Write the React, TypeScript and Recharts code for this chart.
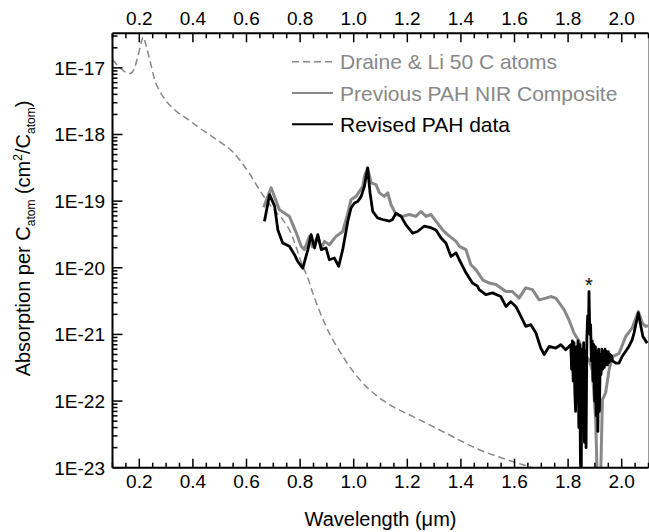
import { LineChart, Line, XAxis, YAxis, ReferenceLine, ReferenceDot, Legend, Label } from "recharts"

// Draine & Li, 50 C atoms (dashed)
const draineWl = [0.10, 0.12, 0.145, 0.165, 0.18, 0.195, 0.207, 0.215, 0.226, 0.245, 0.257, 0.276, 0.30, 0.34, 0.38, 0.425, 0.486, 0.55, 0.611, 0.66, 0.70, 0.735, 0.76, 0.771, 0.81, 0.829, 0.847, 0.897, 0.959, 1.046, 1.096, 1.145, 1.22, 1.344, 1.469, 1.592, 1.667, 1.71]
const draineAbs = [1.33e-17, 1.08e-17, 8.8e-18, 8.2e-18, 9.5e-18, 1.5e-17, 2.4e-17, 2.9e-17, 2.1e-17, 1.05e-17, 6.7e-18, 4.5e-18, 3.2e-18, 2.2e-18, 1.7e-18, 1.25e-18, 8.5e-19, 5.4e-19, 2.6e-19, 1.25e-19, 7.6e-20, 5.3e-20, 3.7e-20, 2.95e-20, 1.05e-20, 7.0e-21, 4.2e-21, 1.32e-21, 4.7e-22, 1.66e-22, 1.12e-22, 8.3e-23, 5.9e-23, 3.3e-23, 1.86e-23, 1.24e-23, 1.0e-23, 8.8e-24]

// Previous PAH NIR composite (gray)
const prevWl = [0.664, 0.692, 0.723, 0.760, 0.785, 0.804, 0.816, 0.835, 0.846, 0.866, 0.879, 0.891, 0.909, 0.934, 0.959, 0.978, 0.990, 1.009, 1.034, 1.040, 1.052, 1.065, 1.083, 1.096, 1.114, 1.127, 1.139, 1.158, 1.183, 1.208, 1.232, 1.251, 1.270, 1.288, 1.307, 1.332, 1.350, 1.382, 1.394, 1.419, 1.437, 1.456, 1.481, 1.506, 1.531, 1.568, 1.592, 1.617, 1.642, 1.667, 1.692, 1.717, 1.735, 1.754, 1.785, 1.803, 1.822, 1.841, 1.859, 1.878, 1.890, 1.903, 1.909, 1.921, 1.928, 1.940, 1.953, 1.965, 1.990, 2.015, 2.039, 2.062, 2.077, 2.089, 2.098]
const prevAbs = [8.1e-20, 1.58e-19, 7.4e-20, 5.9e-20, 3.4e-20, 2.1e-20, 1.87e-20, 2.96e-20, 2.07e-20, 2.96e-20, 2.0e-20, 2.49e-20, 2.22e-20, 2.96e-20, 3.5e-20, 6.6e-20, 1.05e-19, 1.18e-19, 1.67e-19, 2.36e-19, 3.15e-19, 1.88e-19, 1.77e-19, 1.33e-19, 1.18e-19, 1.33e-19, 8.9e-20, 6.3e-20, 5.9e-20, 6.3e-20, 5.9e-20, 7.0e-20, 5.9e-20, 6.3e-20, 5.0e-20, 3.7e-20, 3.14e-20, 2.49e-20, 2.1e-20, 1.87e-20, 1.11e-20, 9.4e-21, 6.6e-21, 5.9e-21, 5.6e-21, 4.4e-21, 4.4e-21, 3.5e-21, 5.0e-21, 4.7e-21, 3.3e-21, 3.5e-21, 3.7e-21, 3.5e-21, 2.35e-21, 1.66e-21, 1.05e-21, 7.9e-22, 5.0e-22, 4.2e-22, 2.95e-22, 5.2e-23, 6e-24, 6e-24, 1.05e-22, 1.33e-22, 2.95e-22, 4.6e-22, 5.2e-22, 9.3e-22, 1.25e-21, 2.2e-21, 1.48e-21, 1.32e-21, 1.35e-21]

// Revised PAH data (black)
const revWl = [0.667, 0.686, 0.705, 0.717, 0.735, 0.760, 0.779, 0.791, 0.810, 0.829, 0.841, 0.854, 0.866, 0.879, 0.897, 0.909, 0.928, 0.944, 0.959, 0.978, 0.990, 1.003, 1.015, 1.028, 1.040, 1.052, 1.061, 1.071, 1.089, 1.108, 1.133, 1.145, 1.158, 1.177, 1.195, 1.220, 1.238, 1.263, 1.288, 1.307, 1.326, 1.344, 1.363, 1.382, 1.394, 1.419, 1.443, 1.462, 1.468, 1.493, 1.518, 1.549, 1.568, 1.586, 1.605, 1.624, 1.642, 1.661, 1.680, 1.698, 1.711, 1.729, 1.754, 1.773, 1.791, 1.810,
  1.813, 1.816, 1.819, 1.822, 1.825, 1.828, 1.831, 1.834, 1.837, 1.840, 1.843, 1.846, 1.849, 1.852, 1.855, 1.858, 1.861, 1.864, 1.867, 1.870, 1.873, 1.876, 1.878, 1.881, 1.884, 1.887, 1.890, 1.893, 1.896, 1.899, 1.902, 1.905, 1.908, 1.911, 1.914, 1.917, 1.920, 1.923, 1.926, 1.929, 1.932, 1.935, 1.938, 1.941, 1.944, 1.947, 1.950, 1.953, 1.956, 1.959, 1.962, 1.966,
  1.978, 1.990, 2.002, 2.015, 2.027, 2.039, 2.046, 2.062, 2.079, 2.095]
const revAbs = [5.0e-20, 1.25e-19, 8.4e-20, 3.7e-20, 2.36e-20, 2.1e-20, 1.57e-20, 1.25e-20, 9.9e-21, 1.87e-20, 3.14e-20, 1.98e-20, 3.14e-20, 1.87e-20, 1.98e-20, 1.32e-20, 1.4e-20, 1.05e-20, 1.87e-20, 5.0e-20, 7.9e-20, 9.4e-20, 9.9e-20, 1.18e-19, 1.67e-19, 3.15e-19, 1.33e-19, 7.0e-20, 5.6e-20, 5.3e-20, 5.0e-20, 5.3e-20, 6.6e-20, 5.9e-20, 4.4e-20, 3.3e-20, 3.5e-20, 4.2e-20, 4.0e-20, 3.7e-20, 2.8e-20, 2.36e-20, 1.48e-20, 1.67e-20, 1.32e-20, 8.4e-21, 5.9e-21, 5.3e-21, 4.7e-21, 3.95e-21, 4.2e-21, 3.7e-21, 2.63e-21, 3.1e-21, 2.63e-21, 1.86e-21, 1.32e-21, 1.4e-21, 1.05e-21, 6.25e-22, 5.0e-22, 6.6e-22, 6.25e-22, 7.0e-22, 5.9e-22, 7.0e-22,
  3.0e-22, 8.0e-22, 2.0e-22, 7.5e-22, 1.4e-22, 7.0e-23, 6.5e-22, 1.5e-22, 8.0e-22, 4.0e-23, 7.0e-22, 1.2e-23, 8.0e-24, 6.0e-22, 1.5e-22, 7.5e-22, 2.4e-23, 5.5e-22, 2.0e-23, 9.0e-22, 1.9e-21, 1.1e-21, 4.4e-21, 1.0e-21, 1.4e-21, 4.0e-22, 8.0e-22, 2.0e-22, 7.0e-22, 1.0e-22, 6.5e-22, 6.0e-23, 5.5e-22, 3.5e-23, 6.0e-22, 7.0e-23, 5.0e-22, 2.5e-22, 6.0e-22, 3.0e-22, 5.5e-22, 3.2e-22, 6.0e-22, 3.5e-22, 5.5e-22, 3.5e-22, 5.5e-22, 3.8e-22, 5.0e-22, 4.0e-22, 4.8e-22, 4.0e-22,
  3.7e-22, 3.7e-22, 4.7e-22, 5.6e-22, 6.6e-22, 8.3e-22, 1.05e-21, 2.1e-21, 9.3e-22, 7.4e-22]

// axis ticks
const xLabels = [0.2, 0.4, 0.6, 0.8, 1.0, 1.2, 1.4, 1.6, 1.8, 2.0]
const xMinorStep = 0.05
const yDecades = [1e-23, 1e-22, 1e-21, 1e-20, 1e-19, 1e-18, 1e-17]
const yMinorFactors = [2, 3, 4, 5, 6, 7, 8, 9]

// the "*" mark over the 1.88 um spike
const starWl = 1.878
const starAbs = 4.4e-21

const X_DOMAIN: [number, number] = [0.1, 2.1]
const Y_DOMAIN: [number, number] = [1e-23, 3.3e-17]
const FONT = '"Liberation Sans", Arial, Helvetica, sans-serif'
const GRAY = "#888888"

const toPoints = (xs: number[], ys: number[]) => xs.map((x, i) => ({ x, y: ys[i] }))
const draineData = toPoints(draineWl, draineAbs)
const prevData = toPoints(prevWl, prevAbs)
const revData = toPoints(revWl, revAbs)

const xTicks: number[] = []
for (let v = X_DOMAIN[0]; v <= X_DOMAIN[1] + 1e-9; v += xMinorStep) xTicks.push(Math.round(v * 100) / 100)

const yTicks: number[] = []
yDecades.forEach(d => {
  yTicks.push(d)
  yMinorFactors.forEach(f => { if (f * d <= Y_DOMAIN[1]) yTicks.push(f * d) })
})

function XTick(props: any) {
  const { x, y, payload, side } = props
  const v = payload.value
  const major = xLabels.some(l => Math.abs(l - v) < 1e-6)
  const len = major ? 9 : 5
  const dir = side === "top" ? 1 : -1
  return (
    <g>
      <line x1={x} y1={y} x2={x} y2={y + dir * len} stroke="#000" strokeWidth={1.5} />
      {major && (
        <text x={x} y={side === "top" ? y - 8.5 : y + 20.5} textAnchor="middle" fontSize={19} fontFamily={FONT} fill="#000">
          {v.toFixed(1)}
        </text>
      )}
    </g>
  )
}

function YTick(props: any) {
  const { x, y, payload } = props
  const v = payload.value
  const exp = Math.round(Math.log10(v))
  const major = Math.abs(v / Math.pow(10, exp) - 1) < 1e-6
  return (
    <g>
      <line x1={x} y1={y} x2={x + (major ? 10 : 5)} y2={y} stroke="#000" strokeWidth={1.5} />
      {major && (
        <text x={x - 7.5} y={y + 6.8} textAnchor="end" fontSize={19} fontFamily={FONT} fill="#000">
          {`1E${exp}`}
        </text>
      )}
    </g>
  )
}

function YTitle() {
  return (
    <text x={30} y={238.5} transform="rotate(-90, 30, 238.5)" textAnchor="middle" fontSize={20} fontFamily={FONT} fill="#000">
      <tspan>Absorption per C</tspan>
      <tspan fontSize={12} dy={5}>atom</tspan>
      <tspan dy={-5}> (cm</tspan>
      <tspan fontSize={12} dy={-8}>2</tspan>
      <tspan dy={8}>/C</tspan>
      <tspan fontSize={12} dy={5}>atom</tspan>
      <tspan dy={-5}>)</tspan>
    </text>
  )
}

function XTitle() {
  return (
    <text x={380.5} y={526} textAnchor="middle" fontSize={20} fontFamily={FONT} fill="#000">
      Wavelength (μm)
    </text>
  )
}

const legendRows = [17.7, 49, 80.3]

function LegendBox(props: any) {
  const payload = props.payload || []
  return (
    <svg width={340} height={100} style={{ display: "block" }}>
      {payload.map((entry: any, i: number) => (
        <g key={entry.value}>
          <line
            x1={4}
            y1={legendRows[i]}
            x2={45}
            y2={legendRows[i]}
            stroke={entry.color}
            strokeWidth={i === 0 ? 1.5 : 2}
            strokeDasharray={entry.payload?.strokeDasharray}
          />
          <text x={52} y={legendRows[i] + 7.5} fontSize={21} fontFamily={FONT} fill={entry.color}>
            {entry.value}
          </text>
        </g>
      ))}
    </svg>
  )
}

export default function App() {
  return (
    <div style={{ position: "absolute", left: 0, top: 0, width: 649, height: 532, background: "#fff" }}>
      <LineChart width={649} height={532} margin={{ top: 0, right: 0.5, bottom: 0, left: 0 }}>
        <XAxis
          xAxisId="b"
          type="number"
          dataKey="x"
          domain={X_DOMAIN}
          allowDataOverflow
          ticks={xTicks}
          interval={0}
          height={64.3}
          tickSize={0}
          tickMargin={0}
          axisLine={{ stroke: "#000", strokeWidth: 2 }}
          tickLine={false}
          tick={(p: any) => <XTick {...p} side="bottom" />}
        >
          <Label content={() => <XTitle />} />
        </XAxis>
        <XAxis
          xAxisId="t"
          orientation="top"
          type="number"
          dataKey="x"
          domain={X_DOMAIN}
          allowDataOverflow
          ticks={xTicks}
          interval={0}
          height={33.3}
          tickSize={0}
          tickMargin={0}
          axisLine={{ stroke: "#000", strokeWidth: 2 }}
          tickLine={false}
          tick={(p: any) => <XTick {...p} side="top" />}
        />
        <YAxis
          yAxisId="l"
          type="number"
          scale="log"
          domain={Y_DOMAIN}
          allowDataOverflow
          ticks={yTicks}
          interval={0}
          width={112.5}
          tickSize={0}
          tickMargin={0}
          axisLine={{ stroke: "#000", strokeWidth: 2 }}
          tickLine={false}
          tick={(p: any) => <YTick {...p} />}
        >
          <Label content={() => <YTitle />} />
        </YAxis>
        <ReferenceLine xAxisId="b" yAxisId="l" x={X_DOMAIN[1]} stroke="#999" strokeWidth={1} />
        <Legend
          layout="vertical"
          align="center"
          verticalAlign="middle"
          wrapperStyle={{ left: 288, top: 44, width: 340, height: 100 }}
          content={(p: any) => <LegendBox {...p} />}
        />
        <Line
          xAxisId="b"
          yAxisId="l"
          data={draineData}
          dataKey="y"
          name="Draine & Li 50 C atoms"
          type="monotone"
          stroke={GRAY}
          strokeWidth={1.5}
          strokeDasharray="7 4"
          dot={false}
          activeDot={false}
          isAnimationActive={false}
        />
        <Line
          xAxisId="b"
          yAxisId="l"
          data={prevData}
          dataKey="y"
          name="Previous PAH NIR Composite"
          type="linear"
          stroke={GRAY}
          strokeWidth={3}
          strokeLinejoin="round"
          dot={false}
          activeDot={false}
          isAnimationActive={false}
        />
        <Line
          xAxisId="b"
          yAxisId="l"
          data={revData}
          dataKey="y"
          name="Revised PAH data"
          type="linear"
          stroke="#000"
          strokeWidth={2.8}
          strokeLinejoin="round"
          dot={false}
          activeDot={false}
          isAnimationActive={false}
        />
        <ReferenceDot
          xAxisId="b"
          yAxisId="l"
          x={starWl}
          y={starAbs}
          r={0}
          ifOverflow="visible"
          shape={(p: any) => (
            <text x={p.cx} y={p.cy} textAnchor="middle" fontSize={20} fontFamily={FONT} fill="#000">
              *
            </text>
          )}
        />
      </LineChart>
    </div>
  )
}
